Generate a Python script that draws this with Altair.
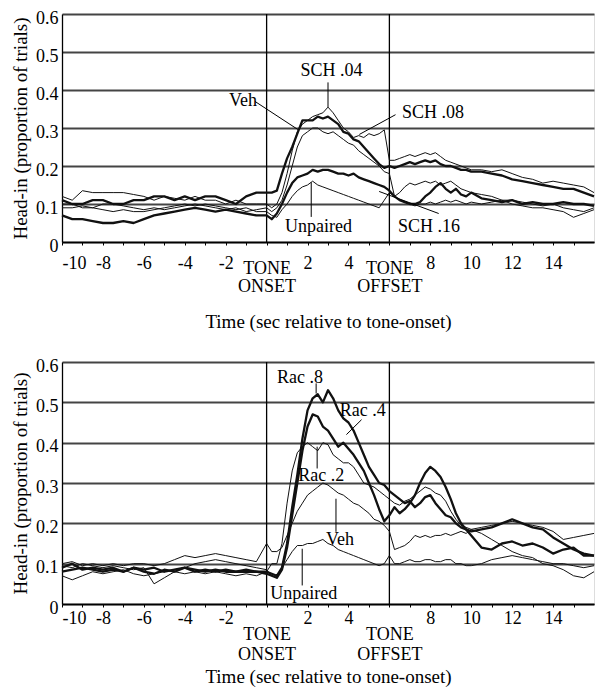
import altair as alt
import pandas as pd

FONT = "Liberation Serif"

TIME = [-10, -9.5, -9, -8.5, -8, -7.5, -7, -6.5, -6, -5.5, -5, -4.5, -4, -3.5, -3, -2.5, -2, -1.5, -1, -0.5, 0,
        0.25, 0.5, 0.75, 1, 1.25, 1.5, 1.75, 2, 2.25, 2.5, 2.75, 3, 3.25, 3.5, 3.75, 4, 4.25, 4.5, 4.75, 5,
        5.25, 5.5, 5.75, 6, 6.25, 6.5, 6.75, 7, 7.25, 7.5, 7.75, 8, 8.25, 8.5, 8.75, 9, 9.25, 9.5, 9.75, 10,
        10.5, 11, 11.5, 12, 12.5, 13, 13.5, 14, 14.5, 15, 15.5, 16]

XTICKS = [-10, -9, -8, -7, -6, -5, -4, -3, -2, -1, 0, 1, 2, 3, 4, 5, 6, 7, 8, 9, 10, 11, 12, 13, 14, 15]
YTICKS = [0, 0.1, 0.2, 0.3, 0.4, 0.5, 0.6]
TONE_MARKS = [0, 6]

# ---------------- top panel (SCH) ----------------
TOP_VEH = [0.11, 0.10, 0.10, 0.11, 0.11, 0.10, 0.10, 0.11, 0.11, 0.12, 0.12, 0.11, 0.12, 0.11, 0.12, 0.12, 0.11, 0.10, 0.12, 0.13, 0.13,
           0.13, 0.135, 0.18, 0.22, 0.25, 0.285, 0.32, 0.32, 0.32, 0.33, 0.325, 0.33, 0.32, 0.31, 0.29, 0.285, 0.27, 0.265, 0.25, 0.235,
           0.22, 0.205, 0.195, 0.20, 0.195, 0.20, 0.205, 0.21, 0.205, 0.21, 0.215, 0.21, 0.215, 0.205, 0.20, 0.20, 0.195, 0.19, 0.19, 0.185,
           0.185, 0.18, 0.175, 0.165, 0.16, 0.155, 0.15, 0.145, 0.14, 0.14, 0.13, 0.12]
TOP_SCH04 = [0.12, 0.11, 0.135, 0.13, 0.13, 0.13, 0.13, 0.125, 0.12, 0.11, 0.12, 0.115, 0.11, 0.12, 0.11, 0.11, 0.10, 0.11, 0.10, 0.10, 0.10,
             0.09, 0.10, 0.13, 0.18, 0.24, 0.29, 0.31, 0.32, 0.33, 0.335, 0.34, 0.355, 0.34, 0.32, 0.30, 0.29, 0.275, 0.28, 0.275, 0.285,
             0.28, 0.285, 0.295, 0.215, 0.215, 0.22, 0.225, 0.23, 0.225, 0.23, 0.235, 0.23, 0.235, 0.225, 0.215, 0.21, 0.205, 0.20, 0.195, 0.19,
             0.19, 0.185, 0.19, 0.18, 0.17, 0.165, 0.155, 0.16, 0.155, 0.15, 0.145, 0.13]
TOP_SCH08 = [0.10, 0.10, 0.09, 0.09, 0.10, 0.10, 0.095, 0.09, 0.085, 0.09, 0.085, 0.09, 0.095, 0.10, 0.095, 0.09, 0.085, 0.09, 0.08, 0.085, 0.09,
             0.08, 0.09, 0.11, 0.15, 0.20, 0.25, 0.28, 0.29, 0.30, 0.30, 0.29, 0.285, 0.29, 0.28, 0.27, 0.26, 0.255, 0.24, 0.23, 0.22,
             0.21, 0.20, 0.185, 0.18, 0.12, 0.11, 0.105, 0.10, 0.095, 0.10, 0.10, 0.105, 0.10, 0.105, 0.11, 0.105, 0.11, 0.105, 0.10, 0.105,
             0.10, 0.105, 0.11, 0.10, 0.095, 0.09, 0.09, 0.085, 0.08, 0.065, 0.075, 0.085]
TOP_SCH16 = [0.07, 0.06, 0.06, 0.055, 0.05, 0.05, 0.055, 0.05, 0.06, 0.07, 0.075, 0.08, 0.085, 0.09, 0.085, 0.08, 0.085, 0.08, 0.075, 0.07, 0.07,
             0.06, 0.075, 0.10, 0.13, 0.155, 0.17, 0.175, 0.18, 0.19, 0.185, 0.19, 0.19, 0.185, 0.18, 0.18, 0.175, 0.18, 0.17, 0.165, 0.16,
             0.155, 0.15, 0.145, 0.135, 0.12, 0.11, 0.105, 0.10, 0.10, 0.105, 0.12, 0.13, 0.145, 0.155, 0.14, 0.13, 0.14, 0.125, 0.12, 0.13,
             0.115, 0.11, 0.105, 0.11, 0.10, 0.105, 0.10, 0.10, 0.105, 0.10, 0.10, 0.095]
TOP_UNPAIRED = [0.09, 0.09, 0.095, 0.09, 0.085, 0.08, 0.085, 0.08, 0.08, 0.085, 0.09, 0.095, 0.10, 0.095, 0.10, 0.095, 0.09, 0.085, 0.09, 0.08, 0.08,
                0.07, 0.065, 0.085, 0.10, 0.12, 0.135, 0.145, 0.15, 0.16, 0.15, 0.145, 0.14, 0.135, 0.13, 0.125, 0.12, 0.115, 0.11, 0.105, 0.10,
                0.095, 0.09, 0.11, 0.13, 0.12, 0.13, 0.145, 0.155, 0.15, 0.155, 0.16, 0.155, 0.16, 0.15, 0.155, 0.16, 0.15, 0.14, 0.135, 0.13,
                0.125, 0.12, 0.11, 0.11, 0.105, 0.10, 0.095, 0.10, 0.09, 0.085, 0.08, 0.09]

TOP_SERIES = ["Veh", "SCH .04", "SCH .08", "SCH .16", "Unpaired"]
TOP_VALUES = [TOP_VEH, TOP_SCH04, TOP_SCH08, TOP_SCH16, TOP_UNPAIRED]
TOP_THICK = [True, False, False, True, False]

TOP_LABELS = ["SCH .04", "Veh", "SCH .08", "Unpaired", "SCH .16"]
TOP_LABEL_X = [3.17, -1.15, 8.13, 2.54, 7.93]
TOP_LABEL_Y = [0.449, 0.37, 0.34, 0.04, 0.04]
TOP_PTR_X1 = [3.0, -0.57, 6.3, 2.18, 8.41]
TOP_PTR_Y1 = [0.42, 0.37, 0.335, 0.157, 0.075]
TOP_PTR_X2 = [3.0, 1.53, 4.53, 2.18, 5.5]
TOP_PTR_Y2 = [0.355, 0.296, 0.283, 0.066, 0.133]

# ---------------- bottom panel (Rac) ----------------
BOT_RAC8 = [0.09, 0.10, 0.085, 0.09, 0.085, 0.09, 0.08, 0.09, 0.085, 0.09, 0.08, 0.085, 0.09, 0.08, 0.085, 0.08, 0.085, 0.08, 0.085, 0.08, 0.08,
            0.075, 0.07, 0.09, 0.15, 0.24, 0.32, 0.41, 0.48, 0.51, 0.52, 0.50, 0.53, 0.51, 0.48, 0.46, 0.45, 0.43, 0.40, 0.37, 0.34,
            0.32, 0.30, 0.295, 0.28, 0.27, 0.26, 0.25, 0.255, 0.24, 0.25, 0.265, 0.27, 0.25, 0.235, 0.22, 0.215, 0.20, 0.19, 0.185, 0.18,
            0.185, 0.19, 0.20, 0.21, 0.20, 0.19, 0.185, 0.165, 0.15, 0.135, 0.125, 0.12]
BOT_RAC4 = [0.08, 0.085, 0.09, 0.085, 0.08, 0.085, 0.08, 0.09, 0.08, 0.075, 0.085, 0.08, 0.09, 0.085, 0.08, 0.085, 0.08, 0.08, 0.08, 0.08, 0.075,
            0.07, 0.065, 0.085, 0.14, 0.22, 0.30, 0.38, 0.44, 0.47, 0.465, 0.44, 0.43, 0.41, 0.39, 0.40, 0.385, 0.37, 0.35, 0.33, 0.30,
            0.27, 0.235, 0.205, 0.22, 0.24, 0.225, 0.235, 0.25, 0.27, 0.30, 0.325, 0.34, 0.33, 0.315, 0.29, 0.26, 0.225, 0.20, 0.185, 0.17,
            0.14, 0.135, 0.15, 0.155, 0.145, 0.15, 0.14, 0.125, 0.135, 0.14, 0.12, 0.12]
BOT_RAC2 = [0.095, 0.09, 0.10, 0.095, 0.09, 0.095, 0.09, 0.085, 0.09, 0.05, 0.065, 0.08, 0.075, 0.08, 0.075, 0.08, 0.075, 0.07, 0.075, 0.07, 0.08,
            0.10, 0.10, 0.15, 0.25, 0.33, 0.375, 0.39, 0.40, 0.39, 0.38, 0.40, 0.395, 0.37, 0.36, 0.35, 0.35, 0.34, 0.32, 0.30, 0.295,
            0.29, 0.28, 0.27, 0.26, 0.25, 0.245, 0.255, 0.26, 0.27, 0.28, 0.29, 0.285, 0.275, 0.27, 0.255, 0.23, 0.21, 0.195, 0.19, 0.185,
            0.175, 0.16, 0.145, 0.13, 0.12, 0.115, 0.10, 0.095, 0.085, 0.07, 0.065, 0.08]
BOT_VEH = [0.10, 0.105, 0.095, 0.10, 0.095, 0.10, 0.095, 0.10, 0.10, 0.095, 0.10, 0.11, 0.12, 0.115, 0.12, 0.125, 0.12, 0.115, 0.11, 0.105, 0.15,
           0.13, 0.13, 0.14, 0.17, 0.20, 0.23, 0.25, 0.27, 0.28, 0.29, 0.30, 0.295, 0.285, 0.275, 0.27, 0.26, 0.25, 0.245, 0.235, 0.225,
           0.21, 0.205, 0.195, 0.18, 0.135, 0.14, 0.145, 0.155, 0.17, 0.165, 0.17, 0.165, 0.17, 0.17, 0.175, 0.17, 0.175, 0.18, 0.175, 0.185,
           0.19, 0.195, 0.20, 0.205, 0.20, 0.195, 0.19, 0.18, 0.16, 0.165, 0.17, 0.175]
BOT_UNPAIRED = [0.07, 0.06, 0.07, 0.08, 0.075, 0.08, 0.085, 0.075, 0.07, 0.075, 0.08, 0.085, 0.09, 0.10, 0.105, 0.11, 0.105, 0.10, 0.095, 0.09, 0.085,
                0.07, 0.065, 0.09, 0.11, 0.13, 0.145, 0.145, 0.15, 0.15, 0.155, 0.16, 0.15, 0.145, 0.135, 0.13, 0.125, 0.12, 0.115, 0.11, 0.105,
                0.10, 0.095, 0.10, 0.12, 0.10, 0.10, 0.105, 0.11, 0.105, 0.105, 0.11, 0.11, 0.105, 0.105, 0.11, 0.11, 0.10, 0.10, 0.095, 0.095,
                0.10, 0.11, 0.115, 0.12, 0.115, 0.11, 0.105, 0.10, 0.10, 0.095, 0.09, 0.095]

BOT_SERIES = ["Rac .8", "Rac .4", "Rac .2", "Veh", "Unpaired"]
BOT_VALUES = [BOT_RAC8, BOT_RAC4, BOT_RAC2, BOT_VEH, BOT_UNPAIRED]
BOT_THICK = [True, True, False, False, False]

BOT_LABELS = ["Rac .8", "Rac .4", "Rac .2", "Veh", "Unpaired"]
BOT_LABEL_X = [1.63, 4.7, 2.67, 3.59, 1.82]
BOT_LABEL_Y = [0.561, 0.479, 0.318, 0.159, 0.026]
BOT_PTR_X1 = [2.42, 4.64, 2.47, 3.39, 1.74]
BOT_PTR_Y1 = [0.547, 0.457, 0.336, 0.179, 0.046]
BOT_PTR_X2 = [2.42, 3.9, 2.47, 3.39, 1.74]
BOT_PTR_Y2 = [0.522, 0.42, 0.39, 0.261, 0.137]

X_TITLE = "Time (sec relative to tone-onset)"
Y_TITLE = "Head-in (proportion of trials)"

X_LABEL_EXPR = ("datum.value == 0 ? ['TONE', 'ONSET'] : datum.value == 6 ? ['TONE', 'OFFSET'] : "
                "(datum.value % 2 == 0 ? '' + datum.value : '')")
Y_LABEL_EXPR = "datum.value == 0 ? '0' : format(datum.value, '.1f')"


def long_frame(series, values, thick):
    rows = []
    for name, vals, th in zip(series, values, thick):
        assert len(vals) == len(TIME), (name, len(vals))
        for i, (t, v) in enumerate(zip(TIME, vals)):
            rows.append({"t": t, "v": v, "series": name, "w": 2.3 if th else 1.0, "i": i})
    return pd.DataFrame(rows)


def x_axis(num_pad, tone_pad, line_h, title_pad):
    return alt.Axis(values=XTICKS, labelExpr=X_LABEL_EXPR, labelFont=FONT, labelFontSize=18,
                    labelColor="black", labelOverlap=False, labelLineHeight=line_h,
                    labelPadding={"condition": {"test": "datum.value == 0 || datum.value == 6",
                                                "value": tone_pad}, "value": num_pad},
                    tickSize=3, tickColor="black", tickWidth=1, domainColor="black", domainWidth=1.3,
                    grid=False, titleFont=FONT, titleFontSize=19, titleFontWeight="normal",
                    titleColor="black", titlePadding=title_pad)


Y_AXIS = alt.Axis(values=YTICKS, labelExpr=Y_LABEL_EXPR, labelFont=FONT, labelFontSize=18,
                  labelColor="black", labelPadding=4, labelOffset=4, ticks=False,
                  domainColor="black", domainWidth=1.3, grid=True, gridColor="#444444", gridWidth=2,
                  titleFont=FONT, titleFontSize=19, titleFontWeight="normal", titleColor="black",
                  titlePadding=5)

XS = alt.Scale(domain=[-10, 16], nice=False, zero=False)
YS = alt.Scale(domain=[0, 0.6], nice=False, zero=False)


def panel(series, values, thick, labels, lx, ly, px1, py1, px2, py2, height, xaxis):
    df = long_frame(series, values, thick)
    X = lambda f: alt.X(f, type="quantitative", scale=XS, axis=xaxis, title=X_TITLE)
    Y = lambda f: alt.Y(f, type="quantitative", scale=YS, axis=Y_AXIS, title=Y_TITLE)
    lines = alt.Chart(df).mark_line(color="#111111", strokeJoin="round").encode(
        x=X("t"), y=Y("v"), detail="series:N",
        strokeWidth=alt.StrokeWidth("w:Q", scale=None), order="i:Q")
    rules = alt.Chart(pd.DataFrame({"t": TONE_MARKS})).mark_rule(
        color="black", strokeWidth=1.3).encode(x=X("t"))
    ptr_df = pd.DataFrame({"t": px1, "v": py1, "t2": px2, "v2": py2})
    ptrs = alt.Chart(ptr_df).mark_rule(color="black", strokeWidth=1).encode(
        x=X("t"), y=Y("v"), x2="t2:Q", y2="v2:Q")
    txt_df = pd.DataFrame({"t": lx, "v": ly, "label": labels})
    texts = alt.Chart(txt_df).mark_text(font=FONT, fontSize=18, color="black",
                                        align="center", baseline="middle").encode(
        x=X("t"), y=Y("v"), text="label:N")
    return alt.layer(rules, lines, ptrs, texts).properties(width=532, height=height)


top = panel(TOP_SERIES, TOP_VALUES, TOP_THICK, TOP_LABELS, TOP_LABEL_X, TOP_LABEL_Y,
            TOP_PTR_X1, TOP_PTR_Y1, TOP_PTR_X2, TOP_PTR_Y2, 228, x_axis(9, 14, 18, 17))
bottom = panel(BOT_SERIES, BOT_VALUES, BOT_THICK, BOT_LABELS, BOT_LABEL_X, BOT_LABEL_Y,
               BOT_PTR_X1, BOT_PTR_Y1, BOT_PTR_X2, BOT_PTR_Y2, 242, x_axis(2, 18, 20, 4))

chart = alt.vconcat(top, bottom, spacing=24).properties(
    padding={"left": 3, "top": 0, "right": 0, "bottom": 0}
).configure_view(stroke="black", strokeWidth=1.3).configure(font=FONT, background="white")

chart.save("out.html", embed_options={"renderer": "svg", "actions": False})
